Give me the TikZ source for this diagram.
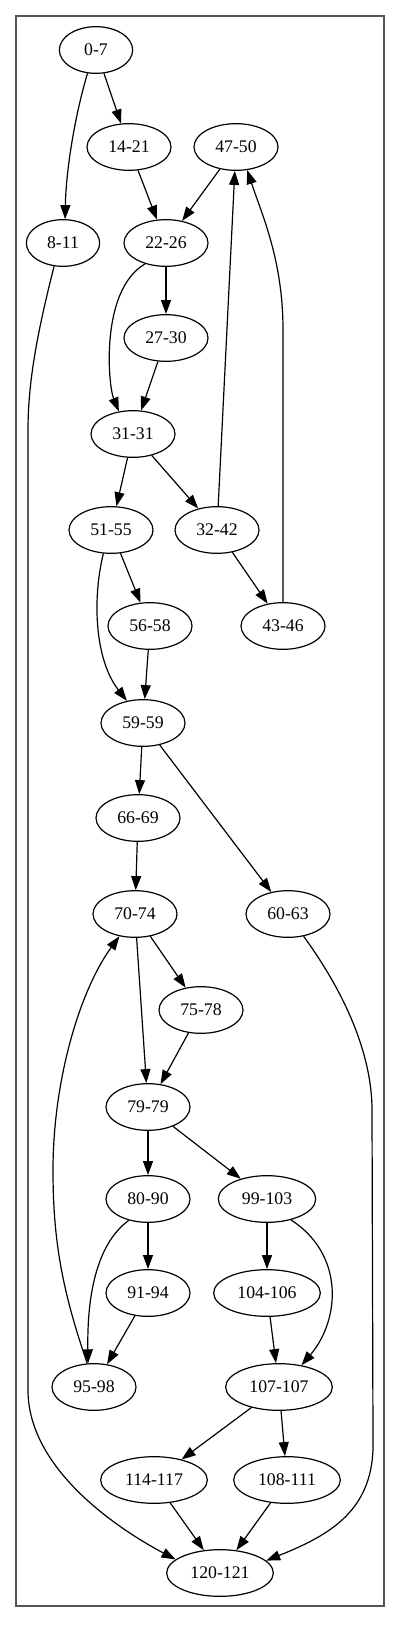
\documentclass[tikz,border=0pt]{standalone}
\usepackage{fontspec}
\setmainfont{Liberation Serif}
\usetikzlibrary{arrows.meta, shapes.geometric}
\definecolor{framegray}{RGB}{85,85,85}

\begin{document}
\begin{tikzpicture}[x=0.75pt,y=0.75pt,>={Triangle[length=10.5pt,width=7.5pt]},line width=0.9pt]
  \tikzstyle{every node}=[ellipse,draw,minimum width=63pt,minimum height=35pt,inner sep=0pt,font=\fontsize{13.3}{16}\selectfont]
  \tikzstyle{narrow}=[minimum width=55pt]
  \tikzstyle{mid}=[minimum width=73pt]
  \tikzstyle{wide}=[minimum width=80pt]

  \useasboundingbox (0,0) rectangle (400,-1637);
  \draw[line width=1.5pt,framegray] (16,-16) rectangle (384,-1606);

  \node[narrow] (n0)   at (96,-50)   {0-7};
  \node         (n14)  at (129,-147) {14-21};
  \node         (n47)  at (236,-147) {47-50};
  \node[narrow] (n8)   at (63,-243)  {8-11};
  \node         (n22)  at (166,-243) {22-26};
  \node         (n27)  at (166,-338) {27-30};
  \node         (n31)  at (133,-434) {31-31};
  \node         (n51)  at (111,-530) {51-55};
  \node         (n32)  at (217,-530) {32-42};
  \node         (n56)  at (150,-626) {56-58};
  \node         (n43)  at (283,-626) {43-46};
  \node         (n59)  at (143,-723) {59-59};
  \node         (n66)  at (138,-818) {66-69};
  \node         (n70)  at (135,-914) {70-74};
  \node         (n60)  at (288,-914) {60-63};
  \node         (n75)  at (201,-1010) {75-78};
  \node         (n79)  at (148,-1107) {79-79};
  \node         (n80)  at (148,-1199) {80-90};
  \node[mid]    (n99)  at (267,-1199) {99-103};
  \node         (n91)  at (148,-1293) {91-94};
  \node[wide]   (n104) at (267,-1293) {104-106};
  \node         (n95)  at (94,-1387)  {95-98};
  \node[wide]   (n107) at (279,-1387) {107-107};
  \node[wide]   (n114) at (154,-1480) {114-117};
  \node[wide]   (n108) at (287,-1480) {108-111};
  \node[wide]   (n120) at (220,-1573) {120-121};

  \path[->]
  (n0)   edge (n14)
  (n14)  edge (n22)
  (n47)  edge (n22)
  (n22)  edge (n27)
  (n27)  edge (n31)
  (n31)  edge (n51)
  (n31)  edge (n32)
  (n32)  edge (n47)
  (n32)  edge (n43)
  (n51)  edge (n56)
  (n56)  edge (n59)
  (n59)  edge (n66)
  (n59)  edge (n60)
  (n66)  edge (n70)
  (n70)  edge (n75)
  (n70)  edge (n79)
  (n75)  edge (n79)
  (n79)  edge (n80)
  (n79)  edge (n99)
  (n80)  edge (n91)
  (n91)  edge (n95)
  (n99)  edge (n104)
  (n104) edge (n107)
  (n107) edge (n114)
  (n107) edge (n108)
  (n114) edge (n120)
  (n108) edge (n120)
  ;

  % curved edges
  \draw[->] (n0.-110) .. controls (75,-115) and (66,-170) .. (n8.85);
  \draw[->] (n22.225) .. controls (100,-290) and (108,-385) .. (n31.122);
  \draw[->] (n43.north) -- (283,-330) .. controls (283,-260) and (262,-215) .. (n47.-64);
  \draw[->] (n51.-108) .. controls (92,-600) and (95,-660) .. (n59.126);
  \draw[->] (n80.-132) .. controls (95,-1245) and (87,-1300) .. (n95.104);
  \draw[->] (n95.106) .. controls (62,-1290) and (53,-1240) .. (53,-1170)
            .. controls (53,-1080) and (80,-990) .. (n70.-125);
  \draw[->] (n99.-41) .. controls (345,-1255) and (340,-1320) .. (n107.44);
  \draw[->] (n8.-111) .. controls (38,-330) and (28,-380) .. (28,-430) -- (28,-1390)
            .. controls (28,-1470) and (120,-1530) .. (n120.163);
  \draw[->] (n60.-55) .. controls (350,-1000) and (372,-1060) .. (372,-1110) -- (373,-1440)
            .. controls (375,-1510) and (330,-1535) .. (n120.15);
\end{tikzpicture}
\end{document}
